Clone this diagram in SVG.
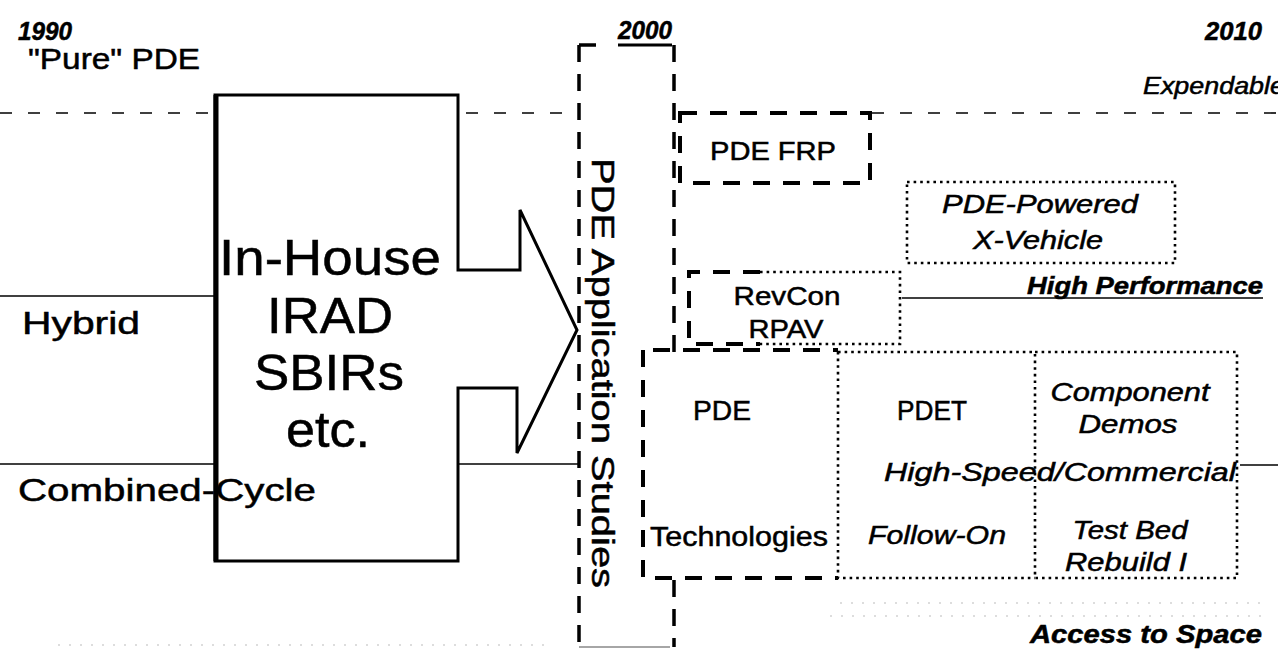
<svg xmlns="http://www.w3.org/2000/svg" width="1278" height="649" viewBox="0 0 1278 649">
<style>
.t{font-family:"Liberation Sans",Arial,Helvetica,sans-serif;fill:#000;stroke:#000;stroke-width:0.5}
.i{font-style:italic}
.b{font-weight:bold}
.solid{stroke:#000;stroke-width:1.6;fill:none}
.thin{stroke:#000;stroke-width:1.6;stroke-dasharray:12 16;fill:none}
.thick{stroke:#000;stroke-width:4;stroke-dasharray:17 13;fill:none}
.app{stroke:#000;stroke-width:3.5;stroke-dasharray:17 12;fill:none}
.dot{stroke:#000;stroke-width:2.6;stroke-dasharray:2.6 4;fill:none}
.faint{stroke:#bbb;stroke-width:1;stroke-dasharray:2 9;fill:none}
</style>
<rect x="0" y="0" width="1278" height="649" fill="#fff"/>

<g id="labels-years">
<text class="t i b" x="18" y="40" font-size="25" textLength="54" lengthAdjust="spacingAndGlyphs">1990</text>
<text class="t i b" x="618" y="39" font-size="25" textLength="54" lengthAdjust="spacingAndGlyphs">2000</text>
<line x1="618" y1="45" x2="672" y2="45" stroke="#000" stroke-width="3"/>
<text class="t i b" x="1205" y="40" font-size="25" textLength="57" lengthAdjust="spacingAndGlyphs">2010</text>
</g>

<g id="labels-categories">
<text class="t" x="28" y="69" font-size="29" textLength="172" lengthAdjust="spacingAndGlyphs">"Pure" PDE</text>
<text class="t i" x="1143" y="94" font-size="23" textLength="142" lengthAdjust="spacingAndGlyphs">Expendable</text>
<text class="t" x="22" y="334" font-size="31" textLength="118" lengthAdjust="spacingAndGlyphs">Hybrid</text>
<text class="t" x="18" y="501" font-size="32" textLength="298" lengthAdjust="spacingAndGlyphs">Combined-Cycle</text>
<text class="t i b" x="1263" y="294" font-size="24" text-anchor="end" textLength="236" lengthAdjust="spacingAndGlyphs">High Performance</text>
<text class="t i b" x="1262" y="643" font-size="25" text-anchor="end" textLength="232" lengthAdjust="spacingAndGlyphs">Access to Space</text>
</g>

<g id="connectors">
<line class="thin" x1="0" y1="113" x2="215" y2="113"/>
<line class="thin" x1="466" y1="113" x2="579" y2="113"/>
<line class="thin" x1="872" y1="113" x2="1278" y2="113"/>
<line class="solid" x1="0" y1="296" x2="215" y2="296"/>
<line class="solid" x1="0" y1="464" x2="215" y2="464"/>
<line class="solid" x1="458" y1="464" x2="579" y2="464"/>
<line class="solid" x1="902" y1="298" x2="1263" y2="298"/>
<line class="solid" x1="1240" y1="465" x2="1278" y2="465"/>
<line class="faint" x1="840" y1="603" x2="1264" y2="603"/>
<line class="faint" x1="830" y1="616" x2="1264" y2="616"/>
<line class="faint" x1="58" y1="645" x2="550" y2="645"/>
</g>

<g id="node-inhouse">
<path d="M215,95 H458 V270 H520 V210 L577,330 L517,453 V388 H458 V561 H215 Z" fill="none" stroke="#000" stroke-width="3" stroke-linejoin="miter"/>
<line x1="216" y1="95" x2="216" y2="561" stroke="#000" stroke-width="5"/>
<text class="t" x="330" y="275" font-size="50" text-anchor="middle" textLength="222" lengthAdjust="spacingAndGlyphs">In-House</text>
<text class="t" x="330" y="333" font-size="50" text-anchor="middle" textLength="126" lengthAdjust="spacingAndGlyphs">IRAD</text>
<text class="t" x="329" y="390" font-size="50" text-anchor="middle" textLength="150" lengthAdjust="spacingAndGlyphs">SBIRs</text>
<text class="t" x="328" y="447" font-size="50" text-anchor="middle" textLength="84" lengthAdjust="spacingAndGlyphs">etc.</text>
</g>

<g id="node-app-studies">
<line class="app" x1="579" y1="45" x2="579" y2="647"/>
<line class="app" x1="579" y1="45" x2="606" y2="45"/>
<line class="app" x1="674" y1="45" x2="674" y2="352"/>
<line class="app" x1="674" y1="580" x2="674" y2="647"/>
<line x1="579" y1="647" x2="670" y2="647" stroke="#888" stroke-width="1.5"/>
<text class="t" transform="translate(592,158) rotate(90)" x="0" y="0" font-size="32" textLength="430" lengthAdjust="spacingAndGlyphs">PDE Application Studies</text>
</g>

<g id="node-pde-frp">
<rect class="thick" x="680" y="113" width="190" height="70"/>
<text class="t" x="773" y="160" font-size="25" text-anchor="middle" textLength="126" lengthAdjust="spacingAndGlyphs">PDE FRP</text>
</g>

<g id="node-x-vehicle">
<rect class="dot" x="907" y="182" width="268" height="81"/>
<text class="t i" x="1040" y="213" font-size="25" text-anchor="middle" textLength="196" lengthAdjust="spacingAndGlyphs">PDE-Powered</text>
<text class="t i" x="1038" y="249" font-size="25" text-anchor="middle" textLength="130" lengthAdjust="spacingAndGlyphs">X-Vehicle</text>
</g>

<g id="node-revcon">
<path class="thick" d="M760,272 H689 V344 H760"/>
<path class="dot" d="M760,272 H900 V344 H760"/>
<text class="t" x="787" y="305" font-size="26" text-anchor="middle" textLength="107" lengthAdjust="spacingAndGlyphs">RevCon</text>
<text class="t" x="786" y="338" font-size="26" text-anchor="middle" textLength="75" lengthAdjust="spacingAndGlyphs">RPAV</text>
</g>

<g id="node-pde-tech">
<path class="thick" d="M653,350 H838"/>
<path class="thick" d="M643,350 V578 H838"/>
<text class="t" x="722" y="420" font-size="27" text-anchor="middle" textLength="58" lengthAdjust="spacingAndGlyphs">PDE</text>
<text class="t" x="650" y="546" font-size="27" textLength="178" lengthAdjust="spacingAndGlyphs">Technologies</text>
</g>

<g id="node-pdet">
<path class="dot" d="M838,352 H1035 M838,352 V578 H1035"/>
<text class="t" x="932" y="420" font-size="27" text-anchor="middle" textLength="70" lengthAdjust="spacingAndGlyphs">PDET</text>
<text class="t i" x="937" y="544" font-size="26" text-anchor="middle" textLength="138" lengthAdjust="spacingAndGlyphs">Follow-On</text>
</g>

<g id="node-component">
<path class="dot" d="M1035,352 H1237 V578 H1035 Z"/>
<text class="t i" x="1130" y="401" font-size="25" text-anchor="middle" textLength="159" lengthAdjust="spacingAndGlyphs">Component</text>
<text class="t i" x="1128" y="433" font-size="25" text-anchor="middle" textLength="99" lengthAdjust="spacingAndGlyphs">Demos</text>
<text class="t i" x="1130" y="539" font-size="25" text-anchor="middle" textLength="115" lengthAdjust="spacingAndGlyphs">Test Bed</text>
<text class="t i" x="1126" y="571" font-size="25" text-anchor="middle" textLength="122" lengthAdjust="spacingAndGlyphs">Rebuild I</text>
</g>

<g id="label-highspeed">
<text class="t i" x="884" y="481" font-size="25" textLength="352" lengthAdjust="spacingAndGlyphs">High-Speed/Commercial</text>
</g>
</svg>
